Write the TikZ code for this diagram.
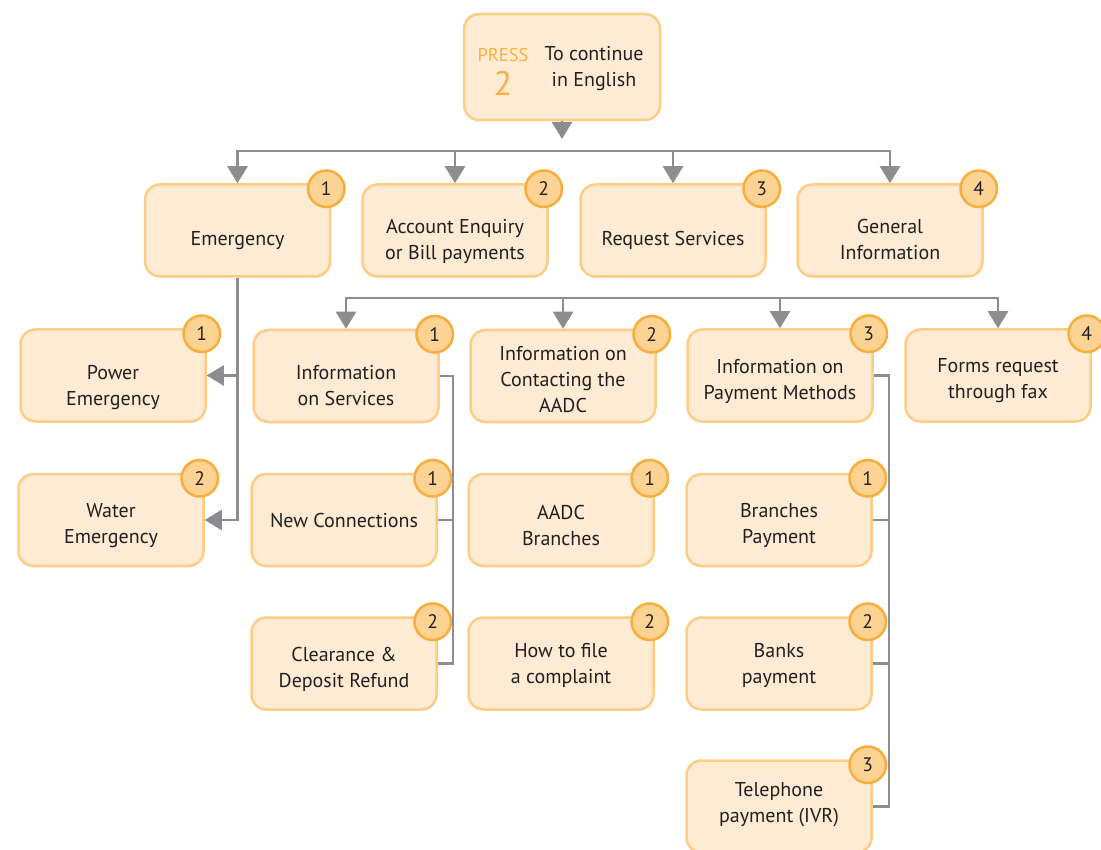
\documentclass[tikz,border=0pt]{standalone}
\usepackage{fontspec}
\setmainfont{PT Sans}
\usetikzlibrary{arrows.meta}
\definecolor{boxfill}{HTML}{FEEBD3}
\definecolor{boxdraw}{HTML}{FDCD86}
\definecolor{badgefill}{HTML}{FDD393}
\definecolor{badgedraw}{HTML}{F8AE3C}
\definecolor{linegray}{HTML}{8D8D91}
\definecolor{pressorange}{HTML}{FBB040}
\definecolor{txt}{HTML}{231F20}
% name, x, y, text-centre y, text, number
\newcommand\optbox[6]{%
  \node[box] (#1) at (#2,#3) {};
  \node[boxtext] (#1t) at (#2,#4) {#5};
  \node[badge] (#1b) at ([shift={(-5,5.5)}]#1.north east) {#6};}
\begin{document}
\begin{tikzpicture}[x=1pt,y=-1pt,
 box/.style={draw=boxdraw,fill=boxfill,line width=2.5pt,rounded corners=15pt,
   minimum width=185pt,minimum height=92pt,inner sep=0pt},
 boxtext/.style={align=center,text=txt,font=\fontsize{20}{26}\selectfont,inner sep=0pt},
 badge/.style={circle,draw=badgedraw,fill=badgefill,line width=2.5pt,
   minimum size=36.5pt,inner sep=0pt,text=txt,font=\fontsize{19.5}{19.5}\selectfont},
 conn/.style={draw=linegray,line width=2.5pt},
 arr/.style={conn,-{Triangle[width=20pt,length=17pt]}},
]
\useasboundingbox (0,0) rectangle (1101,850);
% top box
\node[box,minimum width=196pt,minimum height=106pt] (top) at (562,67) {};
\node[text=pressorange,font=\fontsize{18.5}{18.5}\selectfont,inner sep=0pt] (press) at (503,55) {PRESS};
\node[text=pressorange,font=\fontsize{34}{34}\selectfont,inner sep=0pt] (two) at (503,83) {2};
\node[boxtext] (eng) at (594,68.5) {To continue\\in English};
\coordinate (tiptop) at (562,139);
\draw[arr] (top.south) -- (tiptop);
% row 1
\optbox{emerg}{237.5}{230.5}{241}{Emergency}{1}
\optbox{acct}{455}{230.5}{241}{Account Enquiry\\or Bill payments}{2}
\optbox{req}{673}{230.5}{240}{Request Services}{3}
\optbox{gen}{890}{230.5}{240}{General\\Information}{4}
\coordinate (bus1w) at (237.5,151);
\coordinate (bus1e) at (890,151);
\draw[conn,line cap=rect] (bus1w) -- (bus1e);
\foreach \n in {emerg,acct,req,gen}{\draw[arr] (\n.north |- bus1w) -- (\n.north);}
% emergency branch
\optbox{power}{113}{375.5}{388}{Power\\Emergency}{1}
\optbox{water}{111}{520}{526}{Water\\Emergency}{2}
\draw[arr] (emerg.south) |- (water.east);
\draw[arr] (emerg.south |- power.east) -- (power.east);
% row 2
\optbox{infoserv}{346}{376}{386}{Information\\on Services}{1}
\optbox{contact}{563}{376}{380}{Information on\\Contacting the\\AADC}{2}
\optbox{paymeth}{780}{375.5}{381}{Information on\\Payment Methods}{3}
\optbox{forms}{998}{375.5}{381}{Forms request\\through fax}{4}
\coordinate (bus2w) at (346,298);
\coordinate (bus2e) at (998,298);
\draw[conn,line cap=rect] (bus2w) -- (bus2e);
\foreach \n in {infoserv,contact,paymeth,forms}{\draw[arr] (\n.north |- bus2w) -- (\n.north);}
% column 1
\optbox{newconn}{344}{520}{520}{New Connections}{1}
\optbox{clear}{344}{663.5}{669}{Clearance \&\\Deposit Refund}{2}
\coordinate (s1) at (453,0);
\draw[conn] (infoserv.east) -- (infoserv.east -| s1) -- (clear.east -| s1) -- (clear.east);
\draw[conn] (newconn.east) -- (newconn.east -| s1);
% column 2
\optbox{aadcbr}{561}{520}{525}{AADC\\Branches}{1}
\optbox{complaint}{561}{663.5}{665}{How to file\\a complaint}{2}
% column 3
\optbox{branchpay}{779}{520}{525}{Branches\\Payment}{1}
\optbox{bankpay}{779}{663.5}{665}{Banks\\payment}{2}
\optbox{tel}{779}{806.5}{805}{Telephone\\payment (IVR)}{3}
\coordinate (s3) at (889,0);
\draw[conn] (paymeth.east) -- (paymeth.east -| s3) -- (tel.east -| s3) -- (tel.east);
\draw[conn] (branchpay.east) -- (branchpay.east -| s3);
\draw[conn] (bankpay.east) -- (bankpay.east -| s3);
\end{tikzpicture}
\end{document}
